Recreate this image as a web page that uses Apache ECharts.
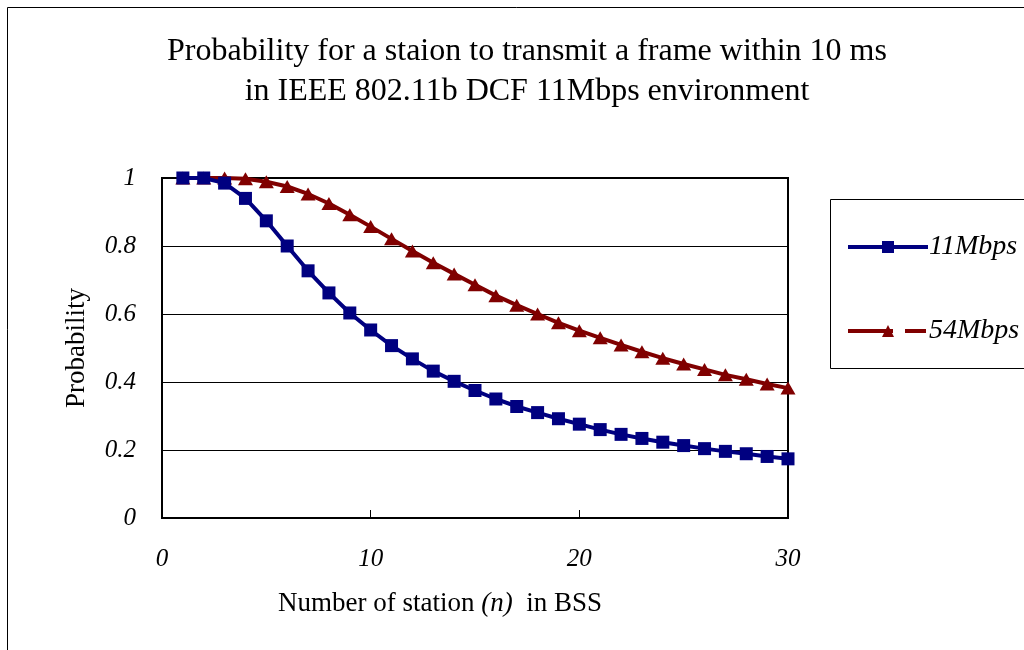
<!DOCTYPE html>
<html>
<head>
<meta charset="utf-8">
<script src="https://cdn.jsdelivr.net/npm/echarts@6/dist/echarts.min.js"></script>
<style>
html,body{margin:0;padding:0;background:#fff;}
#chart{width:1024px;height:650px;}
</style>
</head>
<body>
<div id="chart"></div>
<script>
const stations = [1,2,3,4,5,6,7,8,9,10,11,12,13,14,15,16,17,18,19,20,21,22,23,24,25,26,27,28,29,30];
const prob11 = [1.0,1.0,0.985,0.94,0.874,0.80,0.727,0.662,0.603,0.553,0.507,0.468,0.432,0.402,0.375,0.350,0.328,0.310,0.292,0.276,0.260,0.246,0.234,0.223,0.213,0.204,0.196,0.189,0.181,0.174];
const prob54 = [1.0,1.0,1.0,0.998,0.989,0.975,0.953,0.925,0.892,0.857,0.821,0.785,0.751,0.718,0.686,0.654,0.626,0.600,0.574,0.551,0.530,0.509,0.489,0.470,0.453,0.437,0.421,0.408,0.394,0.382];
const seriesNames = ['11Mbps','54Mbps'];
const titleLines = ['Probability for a staion to transmit a frame within 10 ms','in IEEE 802.11b DCF 11Mbps environment'];
const yTicks = [0,0.2,0.4,0.6,0.8,1];
const xTicks = [0,10,20,30];

const FONT = '"Liberation Serif","Times New Roman",serif';
const chart = echarts.init(document.getElementById('chart'), null, {renderer:'canvas'});
chart.setOption({
  backgroundColor:'#fff',
  animation:false,
  title:{
    text: titleLines.join('\n'),
    left: 522, top: 27, textAlign:'center',
    textStyle:{fontFamily:FONT, fontSize:32, fontWeight:'normal', color:'#000', lineHeight:40}
  },
  graphic:[
    {type:'rect', shape:{x:7.5,y:7.5,width:1100,height:700}, style:{fill:'none', stroke:'#000', lineWidth:1}, z:-1, silent:true},
    {type:'rect', shape:{x:830.5,y:199.5,width:220,height:169}, style:{fill:'#fff', stroke:'#000', lineWidth:1}, z:0, silent:true}
  ],
  legend:{
    orient:'vertical', left:841, top:228, itemGap:56,
    itemWidth:80, itemHeight:15,
    textStyle:{fontFamily:FONT, fontSize:28, fontStyle:'italic', color:'#000', padding:[0,0,0,-4]},
    data:[
      {name:seriesNames[0], lineStyle:{width:4, color:'#000080'}},
      {name:seriesNames[1], lineStyle:{width:4, color:'#800000', type:[45,12,21]}}
    ],
    z:5
  },
  grid:{left:162, right:236, top:178, bottom:132, show:true, borderColor:'#000', borderWidth:2, containLabel:false},
  xAxis:{
    type:'value', min:0, max:30, interval:10,
    axisLine:{show:false},
    axisTick:{show:true, inside:true, length:8, lineStyle:{color:'#000', width:1}},
    splitLine:{show:false},
    axisLabel:{margin:29, fontFamily:FONT, fontSize:25, fontStyle:'italic', color:'#000',
      formatter:function(v){return xTicks.indexOf(v)>=0? String(v):'';}},
    name:'Number of station {i|(n)}  in BSS',
    nameLocation:'middle', nameGap:72,
    nameTextStyle:{fontFamily:FONT, fontSize:27, color:'#000', padding:[0,70,0,0],
      rich:{i:{fontFamily:FONT, fontSize:27, fontStyle:'italic', color:'#000'}}}
  },
  yAxis:{
    type:'value', min:0, max:1, interval:0.2,
    axisLine:{show:false},
    axisTick:{show:true, inside:true, length:8, lineStyle:{color:'#000', width:1}},
    splitLine:{show:true, lineStyle:{color:'#000', width:1}},
    axisLabel:{margin:26, fontFamily:FONT, fontSize:25, fontStyle:'italic', color:'#000',
      formatter:function(v){return yTicks.some(t=>Math.abs(t-v)<1e-9)? String(+v.toFixed(1)):'';}},
    name:'Probability', nameLocation:'middle', nameGap:72, nameRotate:90,
    nameTextStyle:{fontFamily:FONT, fontSize:27, color:'#000'}
  },
  series:[
    {name:seriesNames[0], type:'line', data:stations.map((n,i)=>[n,prob11[i]]),
      symbol:'rect', symbolSize:13, color:'#000080',
      lineStyle:{width:4, color:'#000080'}, itemStyle:{color:'#000080'}, z:3},
    {name:seriesNames[1], type:'line', data:stations.map((n,i)=>[n,prob54[i]]),
      symbol:'triangle', symbolSize:[15,13], color:'#800000',
      lineStyle:{width:4, color:'#800000'}, itemStyle:{color:'#800000'}, z:2}
  ]
});
</script>
</body>
</html>
